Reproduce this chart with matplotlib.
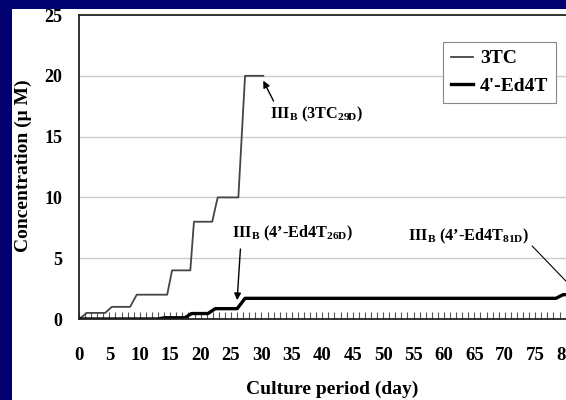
import matplotlib
matplotlib.use("Agg")
import matplotlib.pyplot as plt
from matplotlib.patches import Rectangle

plt.rcParams['font.family'] = ['Liberation Serif', 'DejaVu Serif']
plt.rcParams['font.weight'] = 'bold'
plt.rcParams['mathtext.fontset'] = 'custom'
plt.rcParams['mathtext.rm'] = 'Liberation Serif:bold'
plt.rcParams['mathtext.bf'] = 'Liberation Serif:bold'

# podatki odčitani s slike
day_3tc = [0, 1.3, 4.3, 5.4, 8.4, 9.5, 14.5, 15.3, 18.3, 18.9, 21.9, 22.8, 26.2, 27.3, 30.3]
conc_3tc = [0, 0.5, 0.5, 1, 1, 2, 2, 4, 4, 8, 8, 10, 10, 20, 20]

day_ed4t = [0, 13, 14, 17.4, 18.5, 21.2, 22.4, 26, 27.3, 78.4, 79.6, 85]
conc_ed4t = [0, 0, 0.1, 0.1, 0.45, 0.45, 0.85, 0.85, 1.7, 1.7, 2.0, 2.0]

x_ticks = list(range(0, 85, 5))
y_ticks = [0, 5, 10, 15, 20, 25]

fig = plt.figure(figsize=(5.66, 4.0), dpi=100)
fig.patch.set_facecolor('#000070')
# bela podlaga
fig.patches.append(Rectangle((12 / 566, 0), 1, (400 - 9) / 400,
                             transform=fig.transFigure, facecolor='white',
                             edgecolor='none', zorder=-10))

ax = fig.add_axes([79 / 566, 81 / 400, 517 / 566, 304 / 400])
ax.set_facecolor('white')

ax.plot(day_3tc, conc_3tc, color='#454545', lw=1.3, label='3TC')
ax.plot(day_ed4t, conc_ed4t, color='black', lw=2.4, label="4'-Ed4T")

ax.set_xlim(0, 85)
ax.set_ylim(0, 25)
ax.set_xticks(x_ticks)
ax.set_xticks(range(0, 86), minor=True)
ax.set_yticks(y_ticks)
ax.tick_params(axis='x', which='both', direction='in', length=5, width=0.8,
               color='#555555', pad=20, labelsize=13.5)
ax.tick_params(axis='y', length=0, pad=12, labelsize=13)
for lab in ax.get_xticklabels() + ax.get_yticklabels():
    lab.set_fontweight('bold')

for g in [5, 10, 15, 20]:
    ax.axhline(g, color='#cccccc', lw=1.0, zorder=0)

for s in ax.spines.values():
    s.set_color('#222222')
    s.set_linewidth(1.3)

ax.set_ylabel('Concentration (μ M)', fontsize=14, fontweight='bold')
ax.yaxis.set_label_coords(-0.091, 0.505)
ax.set_xlabel('Culture period (day)', fontsize=14, fontweight='bold')
ax.xaxis.set_label_coords(0.489, -0.202)

leg = ax.legend(loc='upper left', bbox_to_anchor=(0.704, 0.911),
                borderaxespad=0, fancybox=False, edgecolor='#888888',
                framealpha=1,
                prop={'family': 'Liberation Serif', 'weight': 'bold', 'size': 14},
                handlelength=1.15, handletextpad=0.35, borderpad=0.4,
                labelspacing=0.5)
leg.get_frame().set_linewidth(0.8)

ax.annotate(r"III$_{\mathbf{B}}$ (3TC$_{\mathbf{29D}}$)", xy=(30.3, 19.6),
            xytext=(31.4, 16.8), fontsize=11.7, fontweight='bold', va='center',
            arrowprops=dict(arrowstyle='-|>', color='black', lw=1.0,
                            shrinkA=1, shrinkB=0, mutation_scale=10,
                            relpos=(0.06, 1)))
ax.annotate(r"III$_{\mathbf{B}}$ (4’-Ed4T$_{\mathbf{26D}}$)", xy=(26.0, 1.55),
            xytext=(25.2, 7.0), fontsize=11.7, fontweight='bold', va='center',
            arrowprops=dict(arrowstyle='-|>', color='black', lw=1.0,
                            shrinkA=2, shrinkB=0, mutation_scale=10,
                            relpos=(0.07, 0)))
ax.annotate(r"III$_{\mathbf{B}}$ (4’-Ed4T$_{\mathbf{81D}}$)", xy=(82.2, 2.0),
            xytext=(54.1, 6.8), fontsize=11.7, fontweight='bold', va='center',
            arrowprops=dict(arrowstyle='-', color='black', lw=0.8,
                            shrinkA=0, shrinkB=0, relpos=(1, 0.15)))

fig.savefig('out.png', dpi=100, facecolor=fig.get_facecolor())
